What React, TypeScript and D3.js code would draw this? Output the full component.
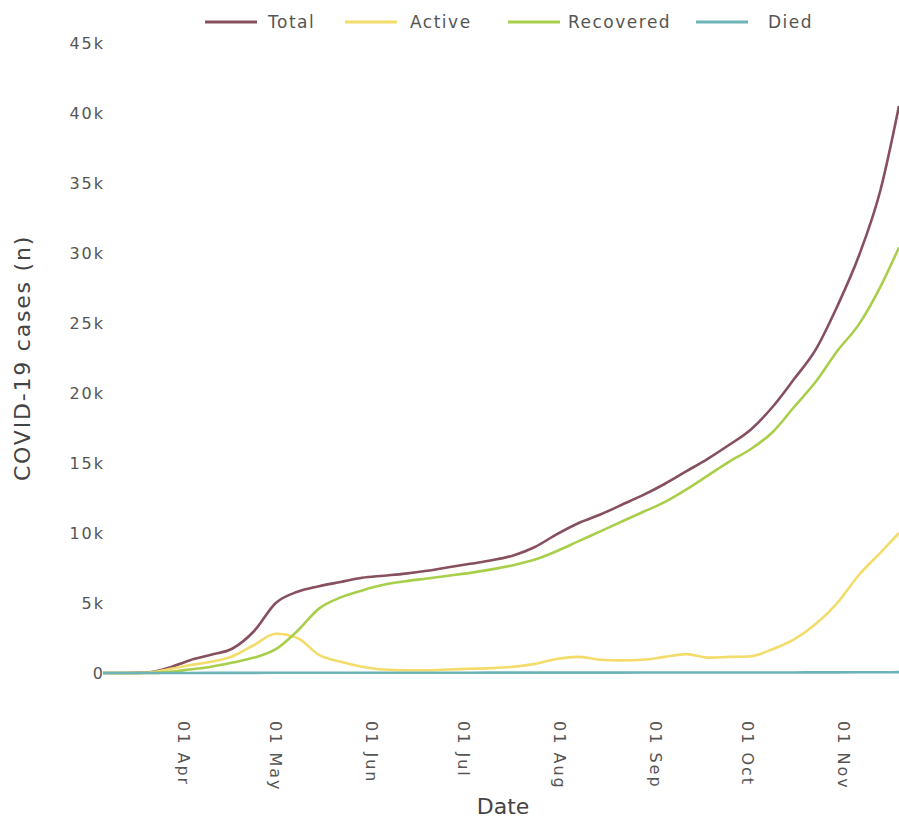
import React from "react";
import * as d3 from "d3";

const dates: string[] = [
  "2020-03-06", "2020-03-13", "2020-03-20", "2020-03-27", "2020-04-03", "2020-04-10",
  "2020-04-17", "2020-04-24", "2020-05-01", "2020-05-08", "2020-05-15", "2020-05-22",
  "2020-05-29", "2020-06-05", "2020-06-12", "2020-06-19", "2020-06-26", "2020-07-03",
  "2020-07-10", "2020-07-17", "2020-07-24", "2020-07-31", "2020-08-07", "2020-08-14",
  "2020-08-21", "2020-08-28", "2020-09-04", "2020-09-11", "2020-09-18", "2020-09-25",
  "2020-10-02", "2020-10-09", "2020-10-16", "2020-10-23", "2020-10-30", "2020-11-06",
  "2020-11-13", "2020-11-19",
];

const totalCases: number[] = [
  0, 0, 30, 350, 900, 1300, 1750, 3000, 5000, 5800, 6200, 6500,
  6800, 6950, 7100, 7300, 7550, 7800, 8050, 8400, 9000, 9900, 10700, 11300,
  12000, 12700, 13500, 14400, 15300, 16300, 17400, 19000, 21000, 23100, 26200, 29800,
  34500, 40500,
];

const activeCases: number[] = [
  0, 0, 20, 250, 550, 800, 1200, 2000, 2800, 2500, 1300, 800,
  450, 250, 200, 200, 250, 300, 350, 450, 650, 1000, 1150, 950,
  900, 950, 1150, 1350, 1100, 1150, 1200, 1700, 2400, 3500, 5000, 7000,
  8600, 10000,
];

const recoveredCases: number[] = [
  0, 0, 0, 60, 250, 450, 750, 1100, 1700, 3000, 4600, 5400,
  5900, 6300, 6550, 6750, 6950, 7150, 7400, 7700, 8100, 8700, 9400, 10100,
  10800, 11500, 12200, 13100, 14100, 15100, 16000, 17200, 19000, 20800, 23000, 24900,
  27600, 30400,
];

const diedCases: number[] = [
  0, 0, 0, 2, 5, 8, 10, 12, 14, 15, 16, 17,
  18, 19, 20, 21, 22, 23, 24, 25, 26, 27, 28, 29,
  30, 31, 32, 33, 34, 35, 36, 38, 40, 43, 46, 50,
  55, 60,
];

const seriesNames: string[] = ["Total", "Active", "Recovered", "Died"];
const seriesColors: string[] = ["#86505e", "#f4dc6a", "#a9cf4a", "#6db4b6"];
const yTicks: number[] = [0, 5000, 10000, 15000, 20000, 25000, 30000, 35000, 40000, 45000];
const xTickDates: string[] = [
  "2020-04-01", "2020-05-01", "2020-06-01", "2020-07-01",
  "2020-08-01", "2020-09-01", "2020-10-01", "2020-11-01",
];

const W = 899;
const H = 823;

export default function App() {
  const parse = d3.timeParse("%Y-%m-%d");
  const dts = dates.map((d) => parse(d) as Date);
  const x = d3
    .scaleTime()
    .domain(d3.extent(dts) as [Date, Date])
    .range([103, 899]);
  const y = d3.scaleLinear().domain([0, 45000]).range([673, 43]);

  const seriesValues = [totalCases, activeCases, recoveredCases, diedCases];
  const line = d3
    .line<number>()
    .x((_, i) => x(dts[i]))
    .y((v) => y(v))
    .curve(d3.curveMonotoneX);

  const fmt = d3.format("~s");
  const tickFmt = d3.timeFormat("%d %b");
  const font = "'DejaVu Sans', 'Open Sans', sans-serif";

  const legendItems = [
    { sx: 205, tx: 268 },
    { sx: 345, tx: 410 },
    { sx: 508, tx: 568 },
    { sx: 696, tx: 768 },
  ];

  return (
    <svg
      width={W}
      height={H}
      style={{ position: "absolute", left: 0, top: 0, background: "#fff" }}
      fontFamily={font}
    >
      <defs>
        <clipPath id="plotclip">
          <rect x={95} y={30} width={W - 95} height={670} />
        </clipPath>
      </defs>

      {yTicks.map((t) => (
        <text
          key={t}
          x={105}
          y={y(t)}
          dy="0.35em"
          textAnchor="end"
          fontSize={16}
          letterSpacing={2}
          fill="#555"
        >
          {fmt(t)}
        </text>
      ))}

      <text
        transform={`translate(30, ${358}) rotate(-90)`}
        textAnchor="middle"
        fontSize={22}
        letterSpacing={1.8}
        fill="#444"
      >
        COVID-19 cases (n)
      </text>

      {xTickDates.map((d) => {
        const xd = x(parse(d) as Date);
        return (
          <text
            key={d}
            transform={`translate(${xd}, 721) rotate(90)`}
            textAnchor="start"
            dy="0.35em"
            fontSize={16}
            letterSpacing={2}
            fill="#555"
          >
            {tickFmt(parse(d) as Date)}
          </text>
        );
      })}

      <text x={503} y={814} textAnchor="middle" fontSize={22} fill="#444">
        Date
      </text>

      <g clipPath="url(#plotclip)">
        {seriesValues.map((vals, i) => (
          <path
            key={seriesNames[i]}
            d={line(vals) || ""}
            fill="none"
            stroke={seriesColors[i]}
            strokeWidth={2.6}
            strokeLinejoin="round"
          />
        ))}
      </g>

      {seriesNames.map((n, i) => (
        <g key={n}>
          <line
            x1={legendItems[i].sx}
            x2={legendItems[i].sx + 52}
            y1={22}
            y2={22}
            stroke={seriesColors[i]}
            strokeWidth={3}
          />
          <text
            x={legendItems[i].tx}
            y={22}
            dy="0.35em"
            fontSize={17}
            letterSpacing={1.5}
            fill="#555"
          >
            {n}
          </text>
        </g>
      ))}
    </svg>
  );
}
